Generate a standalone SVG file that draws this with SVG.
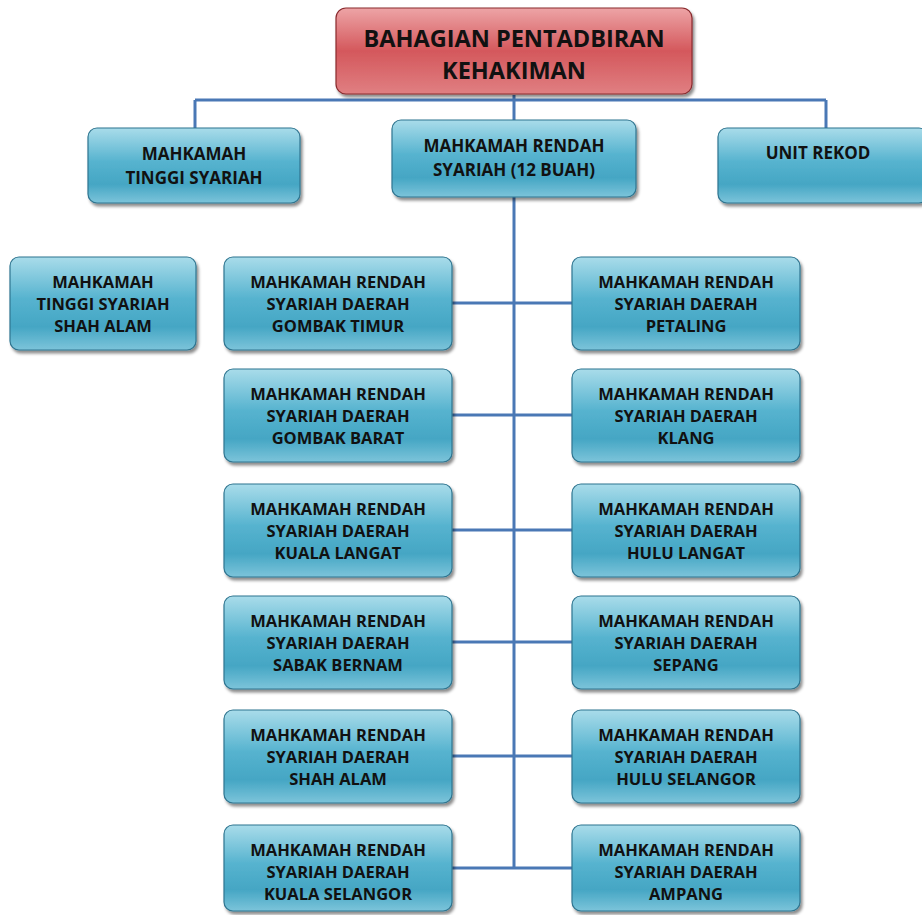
<svg xmlns="http://www.w3.org/2000/svg" width="922" height="915" viewBox="0 0 922 915">
<defs>
<linearGradient id="gb" x1="0" y1="0" x2="0" y2="1">
<stop offset="0" stop-color="#a9dcea"/>
<stop offset="0.45" stop-color="#56b3cf"/>
<stop offset="0.75" stop-color="#45a6c4"/>
<stop offset="1" stop-color="#7cc4da"/>
</linearGradient>
<linearGradient id="gr" x1="0" y1="0" x2="0" y2="1">
<stop offset="0" stop-color="#eda4a6"/>
<stop offset="0.5" stop-color="#d4585c"/>
<stop offset="1" stop-color="#e07f82"/>
</linearGradient>
<filter id="sh" x="-5%" y="-5%" width="115%" height="120%">
<feDropShadow dx="2" dy="3" stdDeviation="1.5" flood-color="#000" flood-opacity="0.45"/>
</filter>
</defs>
<style>
.b{fill:url(#gb);stroke:#2f7590;stroke-width:1.2;filter:url(#sh)}
.r{fill:url(#gr);stroke:#8a2b2e;stroke-width:1.2;filter:url(#sh)}
text{font-family:"Open Sans","Liberation Sans",sans-serif;font-weight:bold;fill:#111;text-anchor:middle;font-size:16.5px}
.t{font-size:23.5px}
.h{font-size:17px}
.c{fill:none;stroke:#4a78b5;stroke-width:3}
</style>
<rect width="922" height="915" fill="#fff"/>
<g id="connectors">
<path class="c" d="M514 95V868M195 100H826M195 100V128M826 100V128"/>
<path class="c" d="M452 303H572M452 415H572M452 530H572M452 642H572M452 756H572M452 868H572"/>
</g>
<g id="n0"><rect class="r" x="336" y="8" width="356" height="86" rx="10"/>
<text class="t" x="514" y="47">BAHAGIAN PENTADBIRAN</text><text class="t" x="514" y="79">KEHAKIMAN</text></g>
<g id="n1"><rect class="b" x="88" y="128" width="212" height="75" rx="9"/>
<text class="h" x="194" y="160">MAHKAMAH</text><text class="h" x="194" y="184">TINGGI SYARIAH</text></g>
<g id="n2"><rect class="b" x="392" y="120" width="244" height="77" rx="9"/>
<text class="h" x="514" y="152">MAHKAMAH RENDAH</text><text class="h" x="514" y="176">SYARIAH (12 BUAH)</text></g>
<g id="n3"><rect class="b" x="718" y="128" width="210" height="75" rx="9"/>
<text class="h" x="818" y="159">UNIT REKOD</text></g>
<g id="n4"><rect class="b" x="10" y="257" width="186" height="93" rx="9"/>
<text x="103" y="288">MAHKAMAH</text><text x="103" y="310">TINGGI SYARIAH</text><text x="103" y="332">SHAH ALAM</text></g>
<g id="l1"><rect class="b" x="224" y="257" width="228" height="93" rx="9"/>
<text x="338" y="288">MAHKAMAH RENDAH</text><text x="338" y="310">SYARIAH DAERAH</text><text x="338" y="332">GOMBAK TIMUR</text></g>
<g id="l2"><rect class="b" x="224" y="369" width="228" height="93" rx="9"/>
<text x="338" y="400">MAHKAMAH RENDAH</text><text x="338" y="422">SYARIAH DAERAH</text><text x="338" y="444">GOMBAK BARAT</text></g>
<g id="l3"><rect class="b" x="224" y="484" width="228" height="93" rx="9"/>
<text x="338" y="515">MAHKAMAH RENDAH</text><text x="338" y="537">SYARIAH DAERAH</text><text x="338" y="559">KUALA LANGAT</text></g>
<g id="l4"><rect class="b" x="224" y="596" width="228" height="93" rx="9"/>
<text x="338" y="627">MAHKAMAH RENDAH</text><text x="338" y="649">SYARIAH DAERAH</text><text x="338" y="671">SABAK BERNAM</text></g>
<g id="l5"><rect class="b" x="224" y="710" width="228" height="93" rx="9"/>
<text x="338" y="741">MAHKAMAH RENDAH</text><text x="338" y="763">SYARIAH DAERAH</text><text x="338" y="785">SHAH ALAM</text></g>
<g id="l6"><rect class="b" x="224" y="825" width="228" height="86" rx="9"/>
<text x="338" y="856">MAHKAMAH RENDAH</text><text x="338" y="878">SYARIAH DAERAH</text><text x="338" y="900">KUALA SELANGOR</text></g>
<g id="r1"><rect class="b" x="572" y="257" width="228" height="93" rx="9"/>
<text x="686" y="288">MAHKAMAH RENDAH</text><text x="686" y="310">SYARIAH DAERAH</text><text x="686" y="332">PETALING</text></g>
<g id="r2"><rect class="b" x="572" y="369" width="228" height="93" rx="9"/>
<text x="686" y="400">MAHKAMAH RENDAH</text><text x="686" y="422">SYARIAH DAERAH</text><text x="686" y="444">KLANG</text></g>
<g id="r3"><rect class="b" x="572" y="484" width="228" height="93" rx="9"/>
<text x="686" y="515">MAHKAMAH RENDAH</text><text x="686" y="537">SYARIAH DAERAH</text><text x="686" y="559">HULU LANGAT</text></g>
<g id="r4"><rect class="b" x="572" y="596" width="228" height="93" rx="9"/>
<text x="686" y="627">MAHKAMAH RENDAH</text><text x="686" y="649">SYARIAH DAERAH</text><text x="686" y="671">SEPANG</text></g>
<g id="r5"><rect class="b" x="572" y="710" width="228" height="93" rx="9"/>
<text x="686" y="741">MAHKAMAH RENDAH</text><text x="686" y="763">SYARIAH DAERAH</text><text x="686" y="785">HULU SELANGOR</text></g>
<g id="r6"><rect class="b" x="572" y="825" width="228" height="86" rx="9"/>
<text x="686" y="856">MAHKAMAH RENDAH</text><text x="686" y="878">SYARIAH DAERAH</text><text x="686" y="900">AMPANG</text></g>
</svg>
